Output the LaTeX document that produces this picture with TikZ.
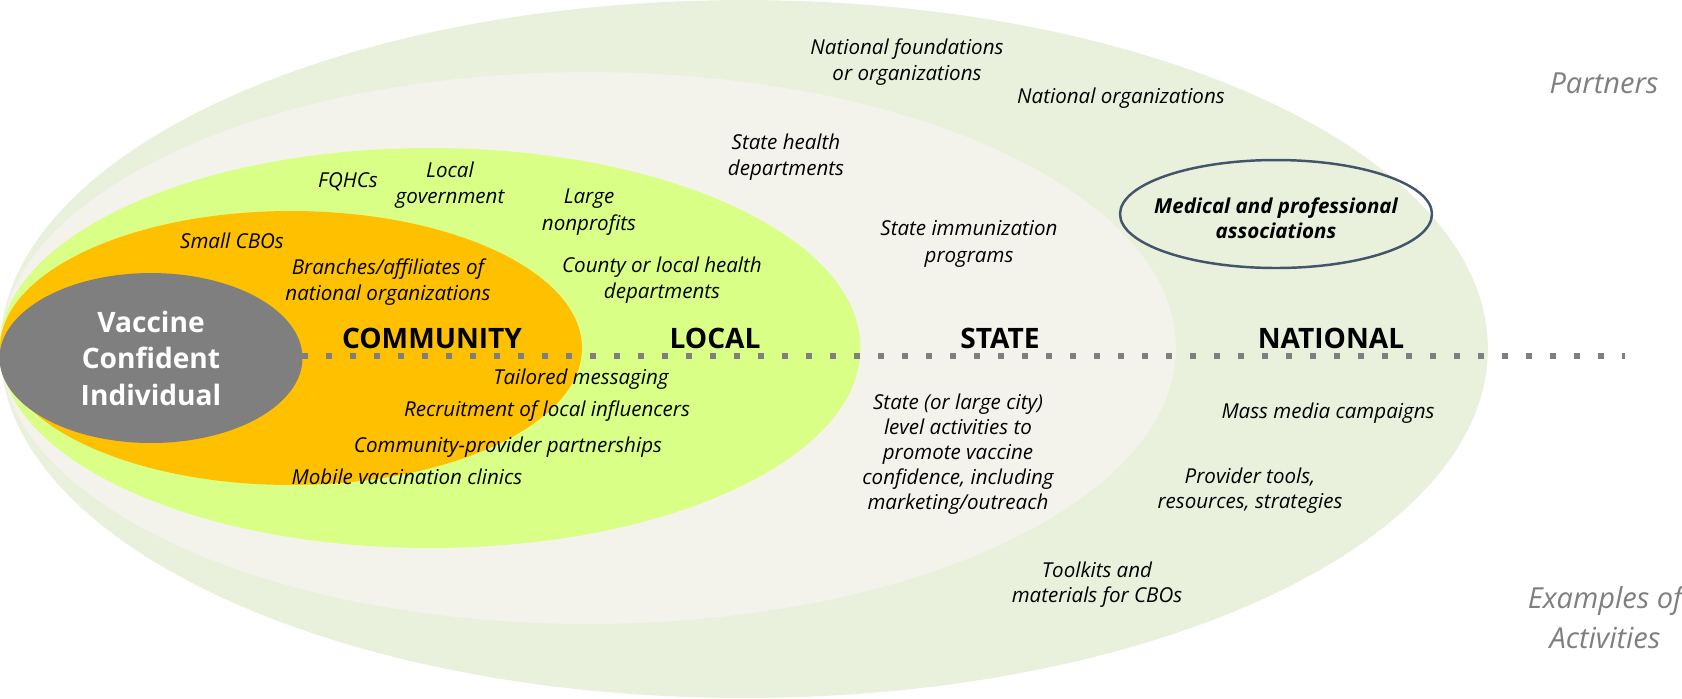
\documentclass[tikz,border=0pt]{standalone}
\usepackage{fontspec}
\setmainfont{Open Sans}
\usepackage{tikz}
\usetikzlibrary{shapes.geometric}

\definecolor{outergreen}{RGB}{233,240,220}
\definecolor{statewhite}{RGB}{243,243,235}
\definecolor{localgreen}{RGB}{217,255,135}
\definecolor{commorange}{RGB}{255,192,0}
\definecolor{coregray}{RGB}{127,127,127}
\definecolor{assocblue}{RGB}{68,84,106}

\begin{document}
\begin{tikzpicture}[x=0.02cm, y=-0.02cm,
	ring/.style={ellipse, inner sep=0pt, outer sep=0pt},
	item/.style={font=\fontsize{11.7}{15.2}\selectfont\itshape, align=center},
	level/.style={font=\fontsize{16}{19}\selectfont\bfseries},
	side/.style={font=\fontsize{16.5}{22.8}\selectfont\itshape, text=coregray, align=center},
	axisline/.style={coregray, line width=3.13pt, dash pattern=on 3.13pt off 10.53pt}]
	%\draw[help lines] (0,0) grid[step=100] (1682,698);
	\useasboundingbox (0,0) rectangle (1682,698);
	% nested rings
	\node[ring, fill=outergreen, minimum width=29.76cm, minimum height=13.96cm] (national) at (744,349) {};
	\node[ring, fill=statewhite, minimum width=23.52cm, minimum height=11.04cm] (state) at (588,348) {};
	\node[ring, fill=localgreen, minimum width=17.22cm, minimum height=8cm] (local) at (430,348) {};
	\node[ring, fill=commorange, minimum width=11.64cm, minimum height=5.48cm] (community) at (291,348) {};
	\coordinate (axisend) at (1625,356);
	\node[ring, fill=coregray, minimum width=6.06cm, minimum height=3.4cm, text=white, align=center,
		font=\fontsize{16}{20.8}\selectfont\bfseries] (indiv) at (151,358) {Vaccine\\Confident\\Individual};
	\draw[axisline] (indiv.east |- axisend) -- (axisend);

	% level names
	\node[level] (commlabel) at (432,338) {COMMUNITY};
	\node[level] (locallabel) at (715,338) {LOCAL};
	\node[level] (statelabel) at (1000,338) {STATE};
	\node[level] (natlabel) at (1331,338) {NATIONAL};

	% partners
	\node[item] (natfound) at (907,62) {National foundations\\or organizations};
	\node[item] (natorg) at (1121,98) {National organizations};
	\node[item] (statehealth) at (786,157) {State health\\departments};
	\node[item] (stateimm) at (969,244) {State immunization\\programs};
	\node[ring, draw=assocblue, line width=1.4pt, minimum width=6.24cm, minimum height=2.16cm] (assoc) at (1276,214) {};
	\node[item, font=\fontsize{11.7}{14.2}\selectfont\bfseries\itshape] (medical) at (1276,218) {Medical and professional\\associations};
	\node[item] (fqhc) at (348,182) {FQHCs};
	\node[item] (localgov) at (450,185) {Local\\government};
	\node[item] (large) at (589,212) {Large\\nonprofits};
	\node[item] (smallcbo) at (232,241) {Small CBOs};
	\node[item] (branches) at (388,282) {Branches/affiliates of\\national organizations};
	\node[item] (county) at (662,280) {County or local health\\departments};

	% activities
	\node[item] (tailored) at (581,379) {Tailored messaging};
	\node[item] (recruit) at (547,411) {Recruitment of local influencers};
	\node[item] (commprov) at (508,447) {Community-provider partnerships};
	\node[item] (mobile) at (407,477) {Mobile vaccination clinics};
	\node[item, font=\fontsize{11.7}{14.2}\selectfont\itshape] (stateact) at (958,454) {State (or large city)\\level activities to\\promote vaccine\\confidence, including\\marketing/outreach};
	\node[item] (mass) at (1328,413) {Mass media campaigns};
	\node[item, font=\fontsize{11.7}{14.2}\selectfont\itshape] (provider) at (1250,491) {Provider tools,\\resources, strategies};
	\node[item, font=\fontsize{11.7}{14.2}\selectfont\itshape] (toolkits) at (1097,585) {Toolkits and\\materials for CBOs};

	% side headings
	\node[side] (partners) at (1604,83) {Partners};
	\node[side] (examples) at (1605,618) {Examples of\\Activities};
\end{tikzpicture}
\end{document}
